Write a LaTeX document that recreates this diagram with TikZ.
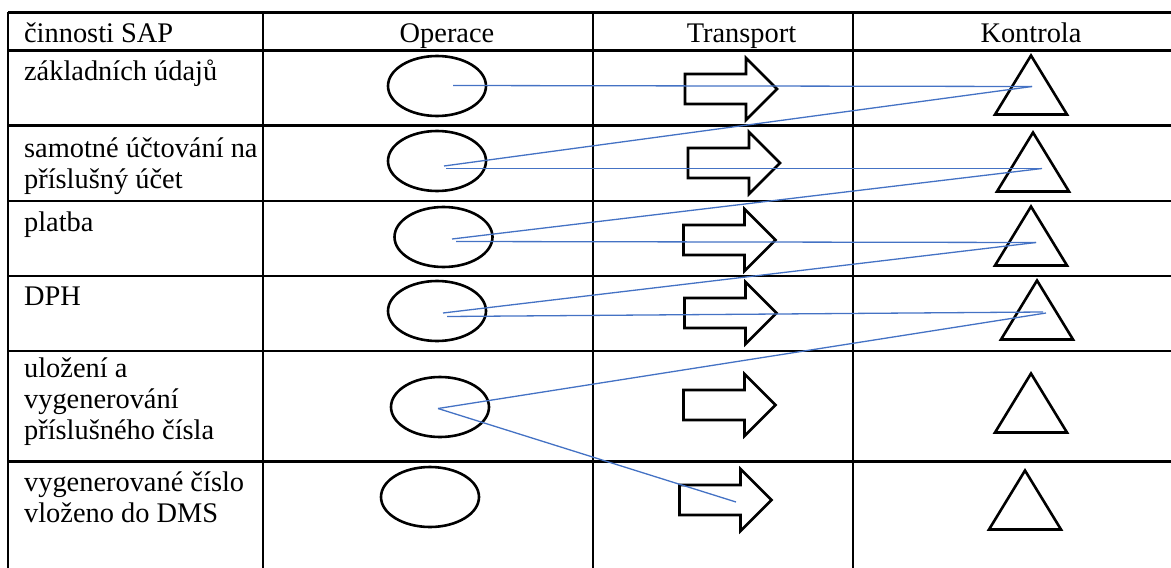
\documentclass[tikz,border=0pt]{standalone}
\usepackage{fontspec}
\setmainfont{Liberation Serif}
\definecolor{linkblue}{RGB}{68,114,196}
\begin{document}
\begin{tikzpicture}[x=0.5pt,y=-0.5pt,
  gridline/.style={line width=1.35pt},
  outline/.style={line width=1.3pt, line join=miter},
  link/.style={draw=linkblue, line width=0.65pt},
  celltext/.style={anchor=base west, inner sep=0pt, font=\fontsize{14.2pt}{16pt}\selectfont},
  headtext/.style={anchor=base, inner sep=0pt, font=\fontsize{14.2pt}{16pt}\selectfont},
  oval/.pic={\draw[outline] (0,0) ellipse [x radius=49, y radius=30];},
  blockarrow/.pic={\draw[outline] (-46,-15) -- (15,-15) -- (15,-31) -- (46,0) -- (15,31) -- (15,15) -- (-46,15) -- cycle;},
  tri/.pic={\draw[outline] (0,0) -- (36,59) -- (-36,59) -- cycle;}
]
\useasboundingbox (0,0) rectangle (1171,567);
% table grid
\foreach \yy in {12.5,50.5,125.5,201,276,351,461.5}
  \draw[gridline] (8,\yy) -- (1172,\yy);
\foreach \xx in {8,263,593,853}
  \draw[gridline] (\xx,12.5) -- (\xx,568);
% header
\node[celltext] (h1) at (23.7,43) {činnosti SAP};
\node[headtext] (h2) at (447,43) {Operace};
\node[headtext] (h3) at (741.5,43) {Transport};
\node[headtext] (h4) at (1031,43) {Kontrola};
% first column
\node[celltext] (r1) at (23.7,81) {základních údajů};
\node[celltext] (r2a) at (23.7,157) {samotné účtování na};
\node[celltext] (r2b) at (23.7,188) {příslušný účet};
\node[celltext] (r3) at (23.7,231) {platba};
\node[celltext] (r4) at (23.7,305) {DPH};
\node[celltext] (r5a) at (23.7,377) {uložení a};
\node[celltext] (r5b) at (23.7,408) {vygenerování};
\node[celltext] (r5c) at (23.7,439) {příslušného čísla};
\node[celltext] (r6a) at (23.7,491) {vygenerované číslo};
\node[celltext] (r6b) at (23.7,522) {vloženo do DMS};
% operations (ellipses)
\pic at (437,86) {oval};
\pic at (437,161) {oval};
\pic at (443.5,237) {oval};
\pic at (437,311) {oval};
\pic at (440,407) {oval};
\pic at (430,497) {oval};
% transport (block arrows)
\pic at (731,89) {blockarrow};
\pic at (734,163) {blockarrow};
\pic at (729.5,240) {blockarrow};
\pic at (730.5,313) {blockarrow};
\pic at (729.5,405) {blockarrow};
\pic at (725.5,500) {blockarrow};
% control (triangles)
\pic at (1031,55.5) {tri};
\pic at (1033,132.5) {tri};
\pic at (1031,206.5) {tri};
\pic at (1037,280.5) {tri};
\pic at (1031,373.5) {tri};
\pic at (1025,470.5) {tri};
% blue connector points
\coordinate (b0) at (453,85.5);
\coordinate (b1) at (1032,86.5);
\coordinate (b2) at (444,166);
\coordinate (b3) at (446,168.5);
\coordinate (b4) at (1042,168.5);
\coordinate (b5) at (452,239);
\coordinate (b6) at (456,241.5);
\coordinate (b7) at (1036,242.5);
\coordinate (b8) at (443,313);
\coordinate (b9) at (447,316.5);
\coordinate (b10) at (1043,312);
\coordinate (b11) at (1046,313);
\coordinate (b12) at (438,408.5);
\coordinate (b13) at (736,502);
\draw[link] (b0) -- (b1);
\draw[link] (b1) -- (b2);
\draw[link] (b3) -- (b4);
\draw[link] (b4) -- (b5);
\draw[link] (b6) -- (b7);
\draw[link] (b7) -- (b8);
\draw[link] (b9) -- (b10);
\draw[link] (b11) -- (b12);
\draw[link] (b12) -- (b13);
\end{tikzpicture}
\end{document}
